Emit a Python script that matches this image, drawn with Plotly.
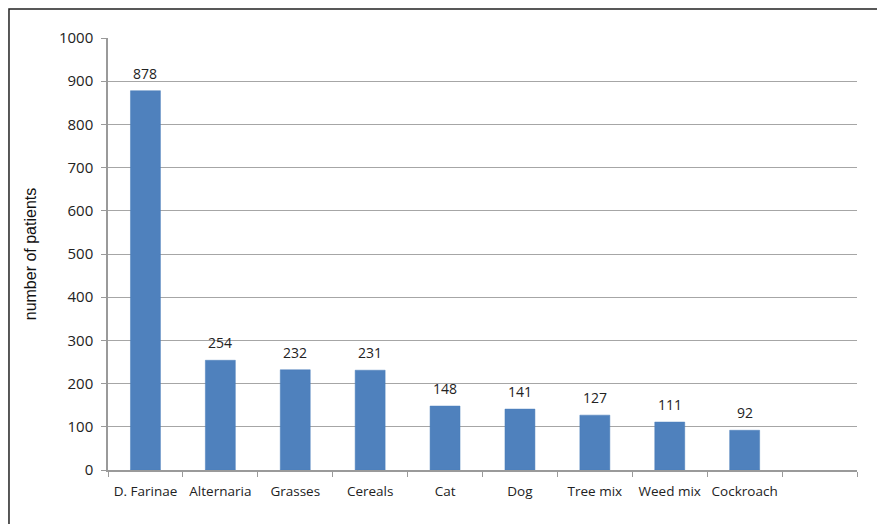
import plotly.graph_objects as go

# Sensitisation counts per allergen
allergens = ["D. Farinae", "Alternaria", "Grasses", "Cereals", "Cat", "Dog",
             "Tree mix", "Weed mix", "Cockroach", " "]
patients = [878, 254, 232, 231, 148, 141, 127, 111, 92, None]
y_ticks = [0, 100, 200, 300, 400, 500, 600, 700, 800, 900, 1000]

FONT = "Open Sans, Noto Sans, sans-serif"

fig = go.Figure(
    go.Bar(
        x=allergens,
        y=patients,
        marker=dict(color="#4F81BD", line=dict(color="#4A7EBB", width=0.5)),
        hoverinfo="x+y",
    )
)

# value labels above each bar
for name, value in zip(allergens, patients):
    if value is None:
        continue
    fig.add_annotation(
        x=name, y=value, text=str(value),
        showarrow=False, yanchor="bottom", yshift=6,
        font=dict(family=FONT, size=14, color="#222222"),
    )

fig.update_layout(
    width=877,
    height=524,
    margin=dict(l=108, r=20, t=38, b=54, autoexpand=False),
    paper_bgcolor="white",
    plot_bgcolor="white",
    bargap=0.6,
    showlegend=False,
    font=dict(family=FONT, size=13, color="#222222"),
    xaxis=dict(
        type="category",
        categoryorder="array",
        categoryarray=allergens,
        tickson="boundaries",
        ticks="outside",
        ticklen=5,
        tickcolor="#9A9A9A",
        tickangle=0,
        automargin=False,
        showline=True,
        linecolor="#9A9A9A",
        linewidth=1.5,
        showgrid=False,
        ticklabelstandoff=8,
        tickfont=dict(size=13.5, color="#222222"),
    ),
    yaxis=dict(
        range=[0, 1000],
        tickvals=y_ticks,
        ticks="outside",
        ticklen=5,
        tickcolor="#9A9A9A",
        automargin=False,
        showline=True,
        linecolor="#9A9A9A",
        linewidth=1.5,
        showgrid=True,
        gridcolor="#A6A6A6",
        gridwidth=1.2,
        zeroline=False,
        ticklabelstandoff=5,
        tickfont=dict(size=15, color="#222222"),
        title=dict(
            text="number of patients",
            font=dict(family="Liberation Sans, Arial, sans-serif", size=16, color="#111111"),
            standoff=18,
        ),
    ),
    shapes=[
        dict(
            type="rect", xref="paper", yref="paper",
            x0=-0.1322, x1=1.2, y0=-0.3, y1=1.067,
            line=dict(color="#222222", width=1.5),
            fillcolor="rgba(0,0,0,0)",
            layer="below",
        )
    ],
)

fig.write_html("out.html")
